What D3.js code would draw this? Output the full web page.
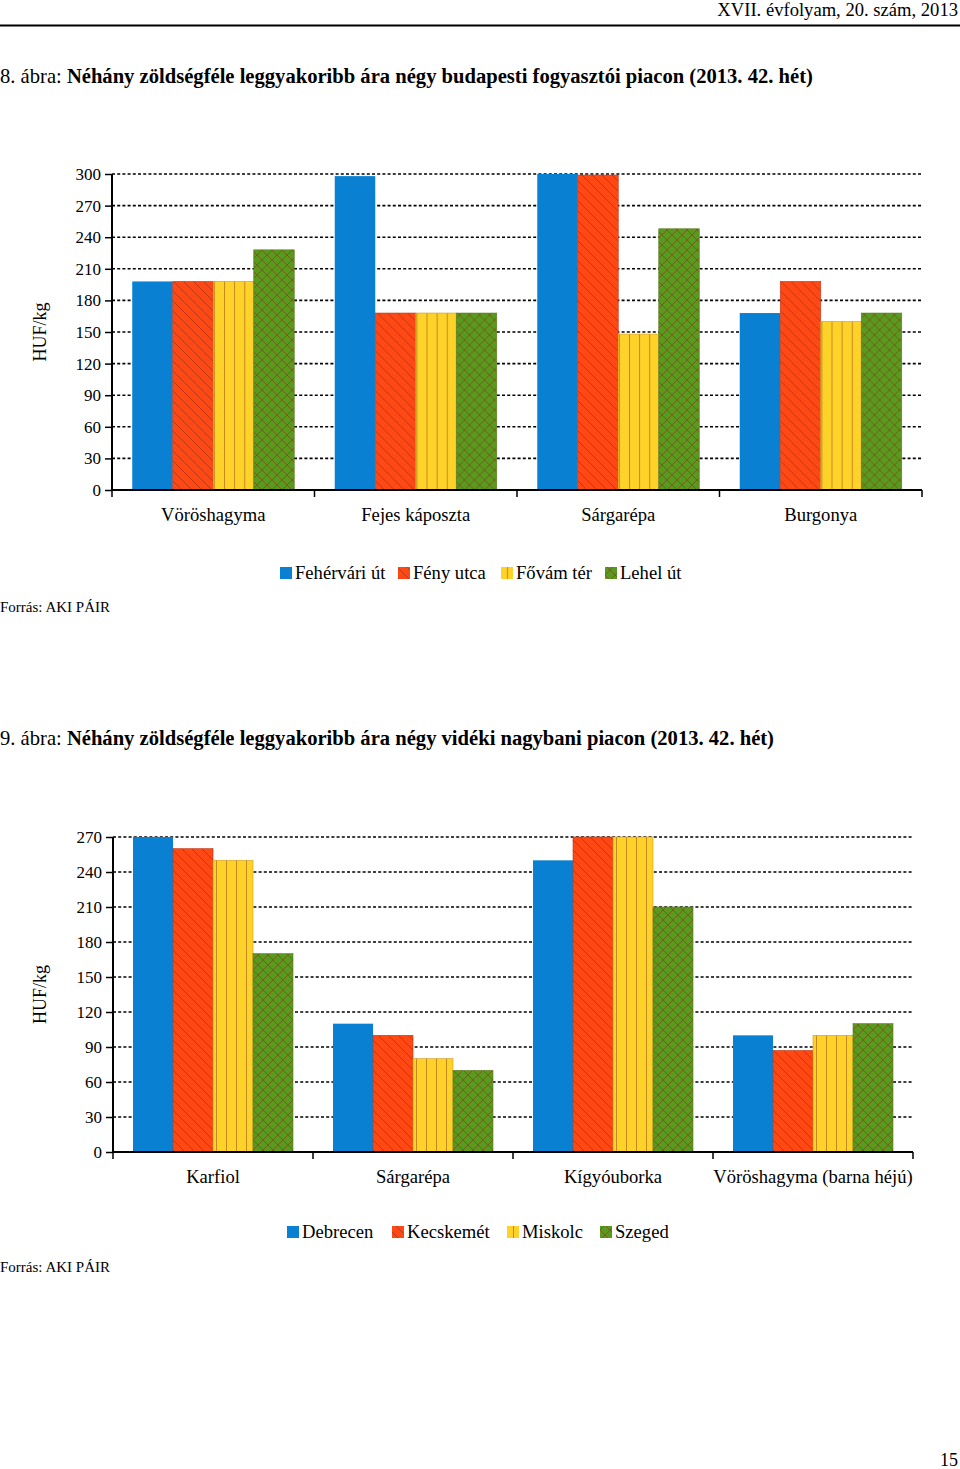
<!DOCTYPE html>
<html><head><meta charset="utf-8">
<script src="https://cdn.jsdelivr.net/npm/d3@7"></script>
<style>
html,body{margin:0;padding:0;background:#fff;}
svg{display:block;font-family:"Liberation Serif","Times New Roman",serif;}
</style></head>
<body>
<svg id="page" width="960" height="1469"></svg>
<script>
// ---------- data ----------
const series1 = ["Fehérvári út", "Fény utca", "Fővám tér", "Lehel út"];
const categories1 = ["Vöröshagyma", "Fejes káposzta", "Sárgarépa", "Burgonya"];
const values1_feherv = [198, 298, 300, 168];
const values1_feny   = [198, 168, 299, 198];
const values1_fovam  = [198, 168, 148, 160];
const values1_lehel  = [228, 168, 248, 168];
const ticks1 = [0, 30, 60, 90, 120, 150, 180, 210, 240, 270, 300];

const series2 = ["Debrecen", "Kecskemét", "Miskolc", "Szeged"];
const categories2 = ["Karfiol", "Sárgarépa", "Kígyóuborka", "Vöröshagyma (barna héjú)"];
const values2_debrecen  = [270, 110, 250, 100];
const values2_kecskemet = [260, 100, 270, 87];
const values2_miskolc   = [250, 80, 270, 100];
const values2_szeged    = [170, 70, 210, 110];
const ticks2 = [0, 30, 60, 90, 120, 150, 180, 210, 240, 270];

const svg = d3.select("#page");
const defs = svg.append("defs");

const fills = ["#0a80d2", "#ff4814", "#ffd22a", "#58991e"];

// ---------- header ----------
svg.append("text").attr("x", 958).attr("y", 16).attr("text-anchor", "end")
  .attr("font-size", 18.6).text("XVII. évfolyam, 20. szám, 2013");
svg.append("line").attr("x1", 0).attr("x2", 960).attr("y1", 25.5).attr("y2", 25.5)
  .attr("stroke", "#000").attr("stroke-width", 2);
svg.append("text").attr("x", 958).attr("y", 1466).attr("text-anchor", "end")
  .attr("font-size", 18).text("15");

function makePatterns(id, x1, x0) {
  const bw = x1.bandwidth();
  const S = 10;
  // red: diagonal "\" hatch
  const pr = defs.append("pattern").attr("id", id + "-red").attr("patternUnits", "userSpaceOnUse")
    .attr("width", S).attr("height", S);
  pr.append("rect").attr("width", S).attr("height", S).attr("fill", fills[1]);
  pr.append("path").attr("d", `M-1,-1L${S+1},${S+1}M-1,${S-1}L1,${S+1}M${S-1},-1L${S+1},1`)
    .attr("stroke", "#9e3014").attr("stroke-width", 0.7);
  // yellow: vertical lines, 4 stripes per bar
  const yx = x0(x0.domain()[0]) + x1(x1.domain()[2]);
  const pw = bw / 4;
  const py = defs.append("pattern").attr("id", id + "-yel").attr("patternUnits", "userSpaceOnUse")
    .attr("x", yx).attr("y", 0).attr("width", pw).attr("height", 10);
  py.append("rect").attr("width", pw).attr("height", 10).attr("fill", fills[2]);
  py.append("line").attr("x1", 0.5).attr("x2", 0.5).attr("y1", 0).attr("y2", 10)
    .attr("stroke", "#c48a1e").attr("stroke-width", 1);
  // green: cross hatch
  const pg = defs.append("pattern").attr("id", id + "-grn").attr("patternUnits", "userSpaceOnUse")
    .attr("width", S).attr("height", S);
  pg.append("rect").attr("width", S).attr("height", S).attr("fill", fills[3]);
  pg.append("path").attr("d", `M-1,-1L${S+1},${S+1}M-1,${S-1}L1,${S+1}M${S-1},-1L${S+1},1M-1,${S+1}L${S+1},-1M-1,1L1,-1M${S-1},${S+1}L${S+1},${S-1}`)
    .attr("stroke", "#7a4a1a").attr("stroke-width", 0.7);
  return ["", "url(#" + id + "-red)", "url(#" + id + "-yel)", "url(#" + id + "-grn)"];
}

function drawChart(opt) {
  const g = svg.append("g");
  const y = d3.scaleLinear().domain([0, opt.ymax]).range([opt.bottom, opt.top]);
  const x0 = d3.scaleBand().domain(opt.categories).range([opt.left, opt.right]).padding(0);
  const bw0 = x0.bandwidth();
  const x1 = d3.scaleBand().domain(opt.series).range([bw0 * 0.1, bw0 * 0.9]).padding(0);
  const pat = makePatterns(opt.id, x1, x0);

  // gridlines
  g.append("g").selectAll("line").data(opt.ticks.filter(t => t > 0)).join("line")
    .attr("x1", opt.left).attr("x2", opt.right)
    .attr("y1", d => y(d)).attr("y2", d => y(d))
    .attr("stroke", "#000").attr("stroke-width", 1.6).attr("stroke-dasharray", "3,2.2");

  // bars
  const rows = opt.categories.map((c, i) => ({ c, vals: opt.values.map(v => v[i]) }));
  const grp = g.append("g").selectAll("g").data(rows).join("g")
    .attr("transform", d => `translate(${x0(d.c)},0)`);
  grp.selectAll("rect").data(d => d.vals.map((v, k) => ({ s: opt.series[k], k, v }))).join("rect")
    .attr("x", d => x1(d.s)).attr("width", x1.bandwidth())
    .attr("y", d => y(d.v)).attr("height", d => y(0) - y(d.v))
    .attr("fill", d => d.k === 0 ? fills[0] : pat[d.k])
    .attr("stroke", d => d.k === 0 ? "none" : ["", "#b8381a", "#d09a20", "#5d7a20"][d.k])
    .attr("stroke-width", 0.6);

  // y axis
  const ya = d3.axisLeft(y).tickValues(opt.ticks).tickSize(7).tickPadding(4).tickFormat(d3.format("d"));
  const yg = g.append("g").attr("transform", `translate(${opt.left},0)`).call(ya);
  yg.select(".domain").attr("stroke-width", 2).attr("d", `M0,${opt.top}V${opt.bottom}`);
  yg.selectAll(".tick line").attr("stroke-width", 1.5);
  yg.selectAll("text").attr("font-size", 17).attr("font-family", "Liberation Serif").attr("fill", "#000");

  // x axis
  const xa = d3.axisBottom(x0).tickSize(0).tickPadding(18);
  const xg = g.append("g").attr("transform", `translate(0,${opt.bottom})`).call(xa);
  xg.select(".domain").attr("stroke-width", 2).attr("d", `M${opt.left},0H${opt.right}`);
  xg.selectAll("text").attr("font-size", 18.6).attr("font-family", "Liberation Serif").attr("fill", "#000");
  const bounds = opt.categories.map(c => x0(c)).concat([opt.right]);
  g.append("g").selectAll("line").data(bounds).join("line")
    .attr("x1", d => d).attr("x2", d => d).attr("y1", opt.bottom).attr("y2", opt.bottom + 7)
    .attr("stroke", "#000").attr("stroke-width", 1.5);

  // y title
  g.append("text").attr("transform", `translate(${opt.ytx},${(opt.top + opt.bottom) / 2}) rotate(-90)`)
    .attr("text-anchor", "middle").attr("font-size", 18).text("HUF/kg");

  // legend
  const lg = g.append("g");
  opt.series.forEach((s, k) => {
    lg.append("rect").attr("x", opt.legendX[k]).attr("y", opt.legendY - 12).attr("width", 12).attr("height", 12)
      .attr("fill", k === 0 ? fills[0] : pat[k]);
    lg.append("text").attr("x", opt.legendX[k] + 15).attr("y", opt.legendY).attr("font-size", 18.6)
      .text(s);
  });
}

// ---------- figure 8 ----------
const t1 = svg.append("text").attr("x", 0).attr("y", 83).attr("font-size", 20.6);
t1.append("tspan").text("8. ábra: ");
t1.append("tspan").attr("font-weight", "bold").text("Néhány zöldségféle leggyakoribb ára négy budapesti fogyasztói piacon (2013. 42. hét)");

drawChart({
  id: "c1", categories: categories1, series: series1,
  values: [values1_feherv, values1_feny, values1_fovam, values1_lehel],
  ticks: ticks1, ymax: 300, left: 112, right: 922, top: 174, bottom: 490,
  ytx: 46, legendX: [280, 398, 501, 605], legendY: 579
});
svg.append("text").attr("x", 0).attr("y", 612).attr("font-size", 15).text("Forrás: AKI PÁIR");

// ---------- figure 9 ----------
const t2 = svg.append("text").attr("x", 0).attr("y", 745).attr("font-size", 20.6);
t2.append("tspan").text("9. ábra: ");
t2.append("tspan").attr("font-weight", "bold").text("Néhány zöldségféle leggyakoribb ára négy vidéki nagybani piacon (2013. 42. hét)");

drawChart({
  id: "c2", categories: categories2, series: series2,
  values: [values2_debrecen, values2_kecskemet, values2_miskolc, values2_szeged],
  ticks: ticks2, ymax: 270, left: 113, right: 913, top: 837, bottom: 1152,
  ytx: 46, legendX: [287, 392, 507, 600], legendY: 1238
});
svg.append("text").attr("x", 0).attr("y", 1272).attr("font-size", 15).text("Forrás: AKI PÁIR");
</script>
</body></html>
